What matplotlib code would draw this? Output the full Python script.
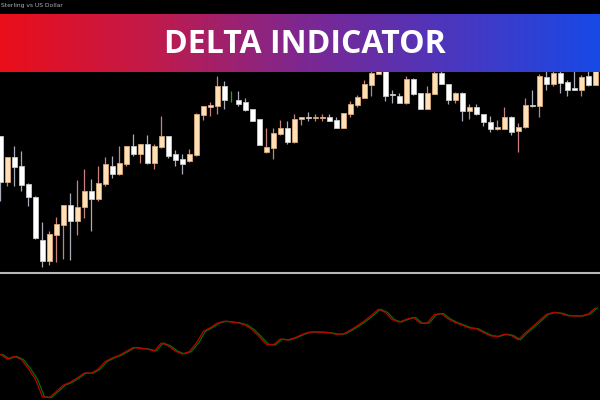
"""Delta indicator chart: candles on top, red/green delta lines below."""
import matplotlib

matplotlib.use("Agg")
import matplotlib.pyplot as plt
import numpy as np
from matplotlib.colors import LinearSegmentedColormap
from matplotlib.lines import Line2D

# price levels (screen units: smaller = higher price)
opens = [
    136.3, 182.3, 157.3, 166.3, 184.3, 197.0, 240.3, 260.7, 234.7, 224.7,
    205.0, 221.3, 207.3, 191.3, 199.0, 184.0, 166.3, 174.0, 164.0, 146.3,
    154.0, 143.7, 163.0, 147.0, 136.3, 154.0, 159.0, 161.3, 155.3, 114.7,
    106.7, 105.7, 85.7, 100.0, 99.7, 102.3, 108.7, 119.0, 152.3, 148.0,
    133.7, 128.0, 142.3, 118.7, 117.0, 118.3, 118.0, 117.3, 120.3, 128.0,
    114.0, 104.7, 98.0, 84.7, 73.7, 66.0, 93.7, 96.3, 103.0, 79.0,
    93.0, 108.7, 93.7, 73.0, 83.7, 99.7, 93.0, 110.7, 107.3, 113.7,
    122.0, 128.7, 129.0, 117.0, 131.3, 127.3, 104.7, 106.3, 77.0, 84.0,
    73.0, 82.0, 88.0, 89.7, 76.3, 84.7,
]
closes = [
    182.3, 157.3, 167.0, 184.7, 197.0, 238.0, 260.7, 234.0, 224.0, 205.3,
    221.3, 207.0, 191.3, 198.7, 183.3, 164.0, 173.7, 163.0, 146.3, 154.0,
    143.7, 163.0, 146.3, 136.3, 155.7, 159.7, 163.7, 154.0, 114.0, 106.3,
    105.3, 85.7, 100.3, 100.0, 103.7, 110.0, 120.7, 144.7, 147.3, 133.0,
    128.0, 142.3, 118.7, 117.3, 118.3, 117.0, 116.7, 120.7, 128.0, 113.0,
    104.0, 97.0, 84.0, 72.7, 68.0, 95.7, 95.3, 103.0, 79.0, 93.7,
    108.7, 93.0, 73.0, 84.0, 99.7, 93.0, 110.7, 107.0, 113.7, 122.3,
    129.0, 127.3, 117.0, 132.0, 127.0, 104.7, 106.3, 76.3, 84.0, 73.0,
    83.0, 89.7, 89.7, 77.0, 84.7, 68.0,
]
highs = [
    136.0, 157.0, 146.3, 151.3, 183.0, 196.0, 222.3, 231.3, 217.0, 204.7,
    193.0, 179.7, 169.0, 179.0, 166.3, 157.3, 155.7, 145.7, 146.0, 133.7,
    143.5, 134.7, 144.0, 115.7, 135.7, 149.7, 154.0, 148.7, 113.0, 106.0,
    102.3, 76.3, 81.3, 91.3, 91.3, 98.0, 108.5, 118.8, 128.0, 128.0,
    119.7, 120.7, 114.0, 117.0, 112.3, 113.7, 113.7, 113.7, 117.0, 112.8,
    101.3, 94.7, 80.3, 71.3, 64.0, 62.0, 90.3, 93.3, 76.3, 78.0,
    92.8, 86.3, 68.0, 70.0, 83.5, 92.0, 92.0, 103.7, 103.7, 113.5,
    116.3, 120.3, 107.0, 116.3, 123.0, 98.0, 90.3, 73.7, 68.0, 70.0,
    70.0, 80.3, 68.0, 75.3, 70.0, 66.0,
]
lows = [
    201.0, 186.0, 185.7, 191.3, 205.7, 238.5, 267.0, 265.3, 262.3, 259.0,
    259.7, 234.7, 218.0, 230.7, 201.3, 186.3, 178.0, 174.5, 165.7, 156.3,
    163.0, 163.5, 169.0, 147.5, 158.0, 165.7, 173.7, 161.5, 155.5, 119.7,
    115.7, 114.0, 108.7, 102.3, 105.7, 110.5, 121.3, 145.0, 152.5, 158.7,
    134.7, 143.7, 142.5, 124.7, 120.7, 121.3, 120.7, 121.0, 128.3, 128.3,
    117.0, 107.3, 98.3, 96.3, 74.0, 101.3, 103.0, 103.0, 103.7, 94.7,
    109.0, 109.0, 94.0, 84.3, 103.5, 103.0, 120.7, 119.0, 115.3, 125.7,
    132.3, 129.7, 129.3, 134.7, 152.3, 127.5, 107.3, 117.0, 89.7, 85.7,
    93.0, 96.3, 89.9, 96.3, 86.3, 85.0,
]

# delta oscillator, one value per bar (screen units of the lower pane)
delta = [
    354.3, 359.0, 356.3, 359.5, 368.5, 379.0, 396.5, 397.7, 391.5, 385.2,
    382.3, 378.0, 373.0, 373.2, 369.0, 361.5, 358.0, 355.3, 351.4, 347.5,
    348.3, 349.1, 351.0, 343.0, 345.8, 351.0, 354.0, 351.6, 343.2, 331.5,
    327.7, 323.2, 321.2, 322.0, 323.0, 325.0, 329.7, 336.7, 344.2, 345.0,
    339.0, 340.0, 338.0, 334.8, 332.3, 332.0, 332.2, 332.8, 334.2, 334.0,
    330.2, 325.8, 321.0, 315.5, 309.3, 312.3, 319.6, 322.1, 319.3, 317.4,
    323.3, 323.0, 314.6, 313.5, 319.0, 322.5, 325.2, 327.9, 328.7, 332.5,
    335.7, 336.6, 334.1, 335.5, 339.8, 332.8, 327.0, 320.7, 314.4, 312.4,
    313.3, 315.6, 316.0, 316.0, 313.9, 308.0,
]

TITLE = "DELTA INDICATOR"
SYMBOL_TEXT = "Sterling vs US Dollar"

BULL_FILL = "#ffdfb6"
BULL_EDGE = "#d9a878"
BULL_WICK = "#c88080"
BEAR_FILL = "#ffffff"
BEAR_EDGE = "#c8c8c8"
BEAR_WICK = "#a8acb8"


def draw_candles(ax):
    x = np.arange(len(opens))
    o = np.array(opens)
    c = np.array(closes)
    bull = c < o  # screen units: smaller value = higher price
    doji = c == o

    wick_colors = np.where(bull, BULL_WICK, BEAR_WICK).astype(object)
    wick_colors[doji] = "#10b010"
    ax.vlines(x, highs, lows, colors=list(wick_colors), linewidth=0.9, zorder=1)

    top = np.minimum(o, c)
    height = np.maximum(np.abs(o - c), 0.9)
    keep = ~doji
    ax.bar(x[keep & bull], height[keep & bull], bottom=top[keep & bull], width=0.68,
           color=BULL_FILL, edgecolor=BULL_EDGE, linewidth=0.6, zorder=2)
    ax.bar(x[keep & ~bull], height[keep & ~bull], bottom=top[keep & ~bull], width=0.68,
           color=BEAR_FILL, edgecolor=BEAR_EDGE, linewidth=0.6, zorder=2)


def main():
    fig = plt.figure(figsize=(6, 4), dpi=100, facecolor="black")

    x_lim = (-0.04, 85.67)

    ax = fig.add_axes([0, 1 - 270 / 400, 1, 270 / 400])
    ax.set_facecolor("black")
    draw_candles(ax)
    ax.set_xlim(*x_lim)
    ax.set_ylim(270, 0)
    ax.axis("off")

    fig.add_artist(Line2D([0, 1], [1 - 272.5 / 400] * 2, transform=fig.transFigure,
                          color="#b8b8b8", linewidth=1.5))

    ind = fig.add_axes([0, 0, 1, 126 / 400])
    ind.set_facecolor("black")
    xs = np.arange(len(delta))
    ind.plot(xs + 0.3, delta, color="#007000", linewidth=0.9)
    ind.plot(xs, delta, color="#c00000", linewidth=0.9)
    ind.set_xlim(*x_lim)
    ind.set_ylim(400, 274)
    ind.axis("off")

    fig.text(1 / 600, 1 - 5 / 400, SYMBOL_TEXT, color="#b0b0b0", fontsize=4.3,
             ha="left", va="center")

    banner = fig.add_axes([0, 1 - 72 / 400, 1, 57.5 / 400])
    cmap = LinearSegmentedColormap.from_list(
        "banner", ["#ea0e1a", "#c21a4a", "#7e2790", "#4c36be", "#1749e6"])
    banner.imshow(np.linspace(0, 1, 256)[None, :], cmap=cmap, aspect="auto",
                  extent=(0, 1, 0, 1))
    banner.set_xlim(0, 1)
    banner.set_ylim(0, 1)
    banner.axis("off")
    banner.text(0.508, 0.47, TITLE, color="white", fontsize=23, fontweight="bold",
                family=["Open Sans", "DejaVu Sans"], ha="center", va="center")

    fig.savefig("out.png", dpi=100, facecolor="black")
    plt.close(fig)


if __name__ == "__main__":
    main()
